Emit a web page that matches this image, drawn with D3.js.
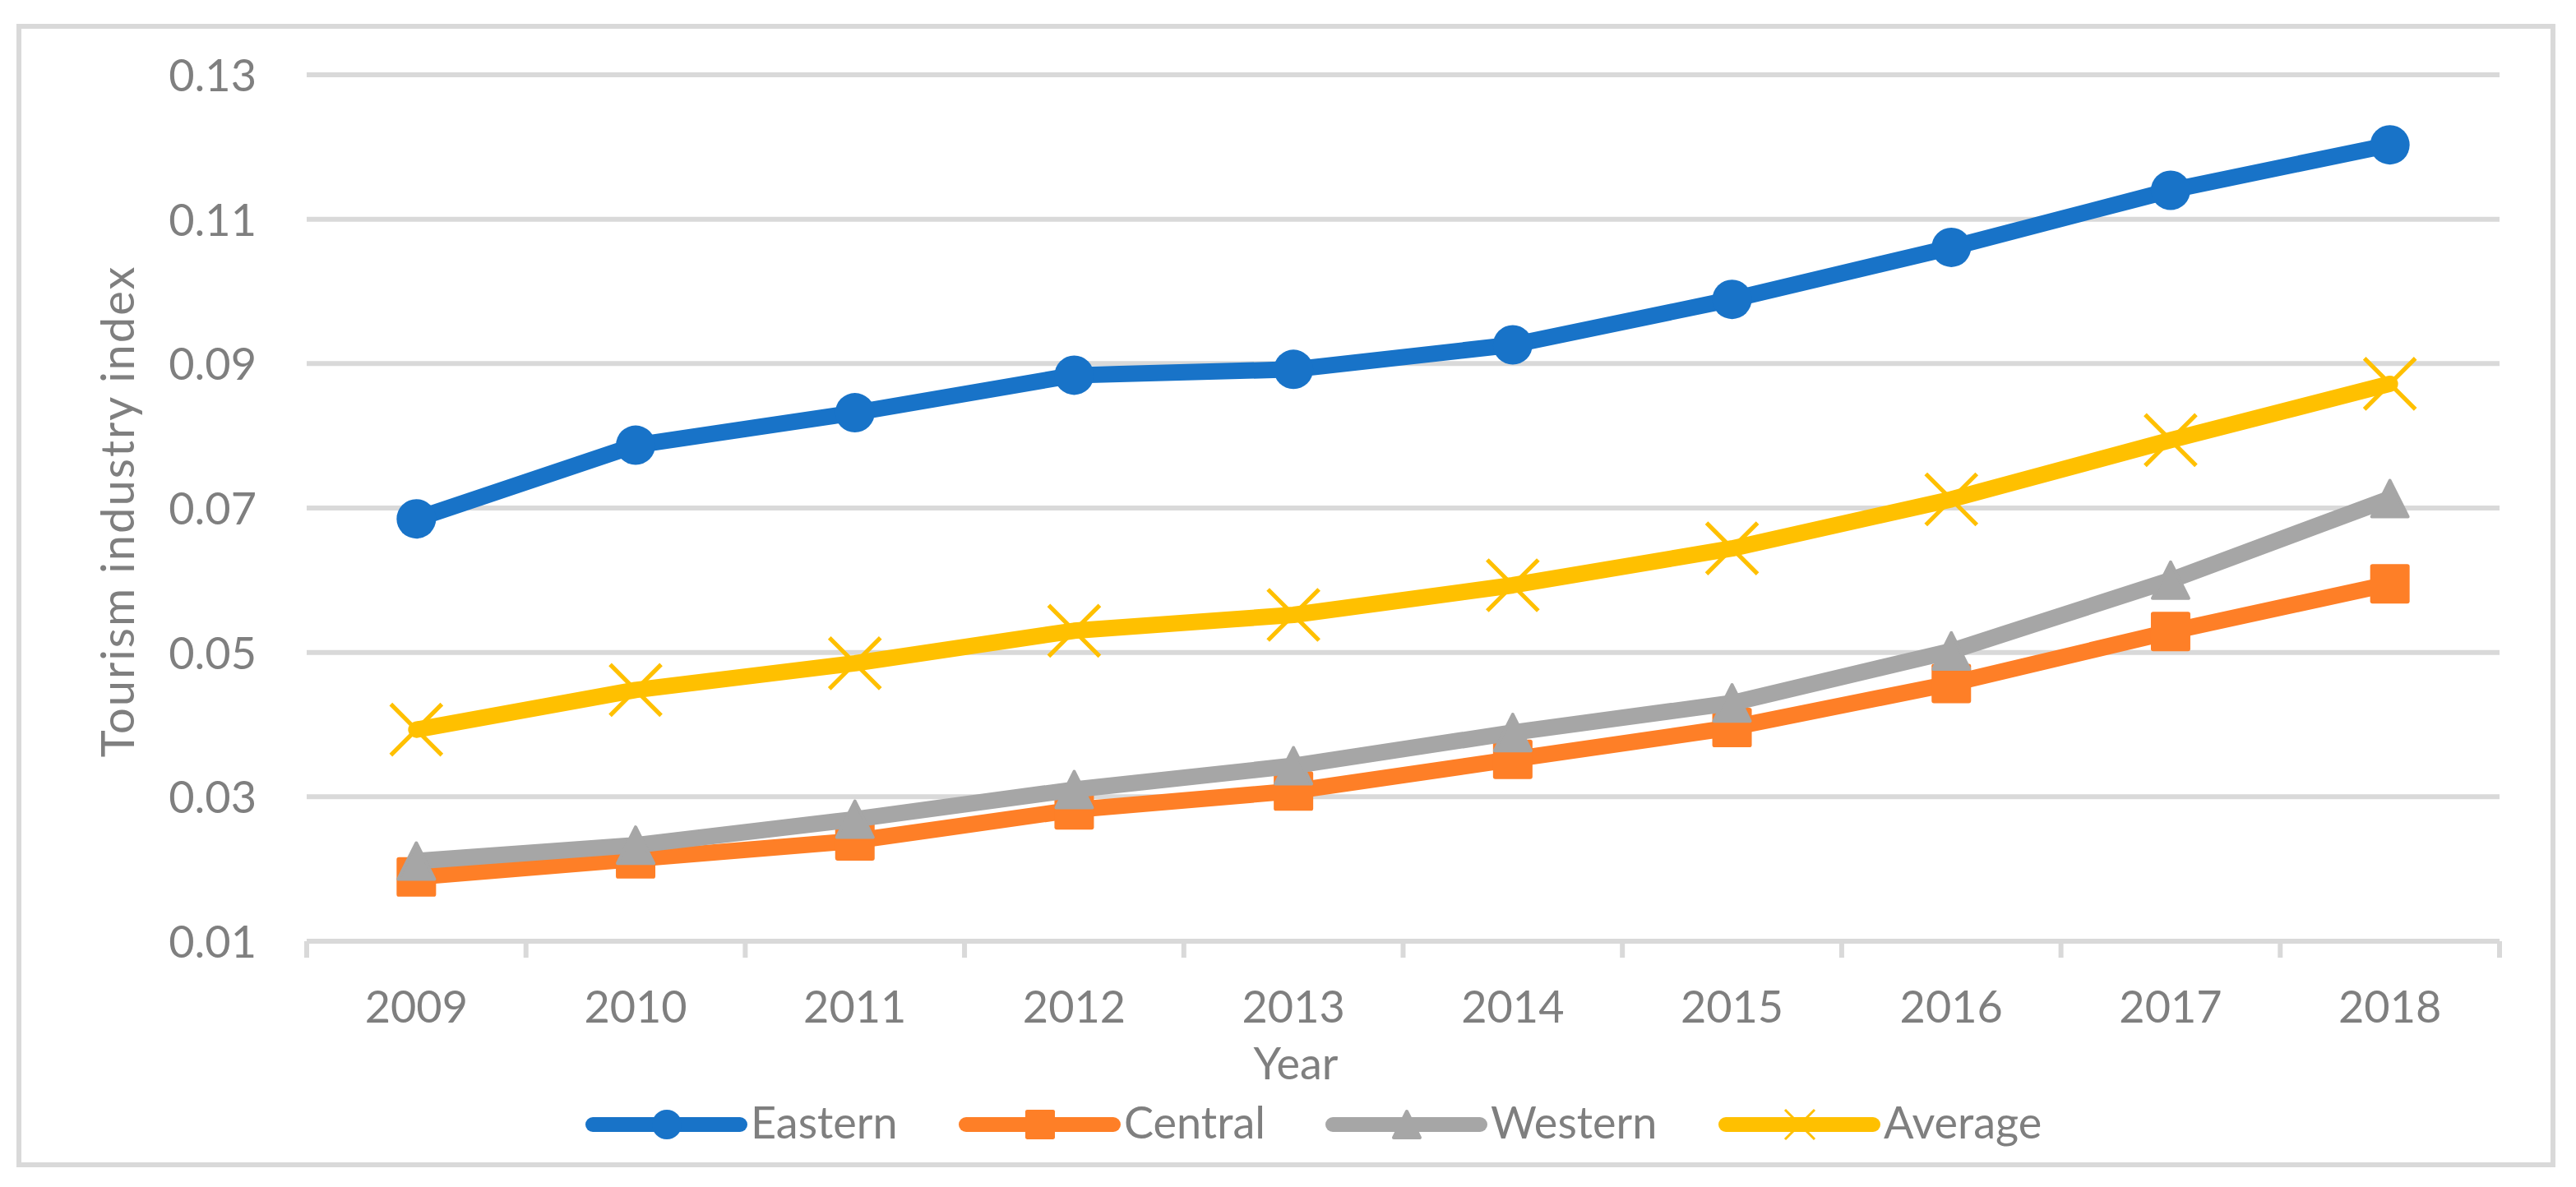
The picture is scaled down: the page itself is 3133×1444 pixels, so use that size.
<!DOCTYPE html>
<html>
<head>
<meta charset="utf-8">
<script src="https://cdn.jsdelivr.net/npm/d3@7"></script>
<style>
body { margin: 0; background: #fff; }
text { font-family: Lato, "Open Sans", sans-serif; font-size: 54px; fill: #7f7f7f; }
</style>
</head>
<body>
<svg width="3133" height="1444"></svg>
<script>
var years = ["2009", "2010", "2011", "2012", "2013", "2014", "2015", "2016", "2017", "2018"];
var eastern = [0.0685, 0.0787, 0.0832, 0.0884, 0.0892, 0.0926, 0.0989, 0.1061, 0.1140, 0.1203];
var central = [0.0189, 0.0214, 0.0239, 0.0282, 0.0308, 0.0352, 0.0396, 0.0457, 0.0529, 0.0595];
var western = [0.0211, 0.0233, 0.0269, 0.0310, 0.0343, 0.0389, 0.0430, 0.0502, 0.0600, 0.0713];
var average = [0.0393, 0.0448, 0.0485, 0.0530, 0.0552, 0.0593, 0.0644, 0.0712, 0.0794, 0.0872];
var yTicks = [0.01, 0.03, 0.05, 0.07, 0.09, 0.11, 0.13];
var seriesNames = ["Eastern", "Central", "Western", "Average"];

var colors = ["#1873c8", "#fe7f27", "#a6a6a6", "#ffc000"];
var shapes = ["circle", "square", "triangle", "x"];
var seriesData = [eastern, central, western, average];

var svg = d3.select("svg");
var plot = {left: 373, right: 3040, top: 91, bottom: 1145};
var grey = "#d9d9d9";

var x = d3.scaleBand().domain(years).range([plot.left, plot.right]);
var y = d3.scaleLinear().domain([0.01, 0.13]).range([plot.bottom, plot.top]);
var cx = function(d) { return x(d) + x.bandwidth() / 2; };

// outer chart border
svg.append("rect")
  .attr("x", 23).attr("y", 32).attr("width", 3082).attr("height", 1385)
  .attr("fill", "none").attr("stroke", grey).attr("stroke-width", 6);

// gridlines
svg.append("g").selectAll("line")
  .data(yTicks.slice(1))
  .enter().append("line")
  .attr("x1", plot.left).attr("x2", plot.right)
  .attr("y1", function(d) { return y(d); })
  .attr("y2", function(d) { return y(d); })
  .attr("stroke", grey).attr("stroke-width", 6);

// y axis labels
var gy = svg.append("g")
  .attr("transform", "translate(312,0)")
  .call(d3.axisLeft(y).tickValues(yTicks).tickSize(0).tickPadding(0).tickFormat(d3.format(".2f")));
gy.select(".domain").remove();
gy.selectAll("text").attr("dy", "0.36em");

// x axis line and ticks between categories
svg.append("line")
  .attr("x1", plot.left).attr("x2", plot.right)
  .attr("y1", plot.bottom).attr("y2", plot.bottom)
  .attr("stroke", grey).attr("stroke-width", 6);

var bounds = years.map(function(d) { return x(d); }).concat([plot.right]);
svg.append("g").selectAll("line")
  .data(bounds)
  .enter().append("line")
  .attr("x1", function(d) { return d; }).attr("x2", function(d) { return d; })
  .attr("y1", plot.bottom).attr("y2", plot.bottom + 20)
  .attr("stroke", grey).attr("stroke-width", 6);

var gx = svg.append("g")
  .attr("transform", "translate(0," + plot.bottom + ")")
  .call(d3.axisBottom(x).tickSize(0).tickPadding(61));
gx.select(".domain").remove();

// axis titles
svg.append("text")
  .attr("x", 1576).attr("y", 1313)
  .attr("text-anchor", "middle")
  .text("Year");

svg.append("text")
  .attr("transform", "translate(163,622) rotate(-90)")
  .attr("text-anchor", "middle")
  .style("letter-spacing", "2px")
  .style("font-size", "56px")
  .text("Tourism industry index");

function marker(g, shape, color, px, py, s) {
  var h = s / 2;
  if (shape == "circle") {
    g.append("circle").attr("cx", px).attr("cy", py).attr("r", h).attr("fill", color);
  } else if (shape == "square") {
    g.append("rect").attr("x", px - h).attr("y", py - h).attr("width", s).attr("height", s)
      .attr("rx", s * 0.06).attr("fill", color);
  } else if (shape == "triangle") {
    g.append("path")
      .attr("d", "M" + px + "," + (py - h + 2) + "L" + (px + h - 2) + "," + (py + h - 2) + "L" + (px - h + 2) + "," + (py + h - 2) + "Z")
      .attr("fill", color).attr("stroke", color).attr("stroke-width", 4).attr("stroke-linejoin", "round");
  } else {
    var k = s * 0.5;
    g.append("path")
      .attr("d", "M" + (px - k) + "," + (py - k) + "L" + (px + k) + "," + (py + k) +
                 "M" + (px - k) + "," + (py + k) + "L" + (px + k) + "," + (py - k))
      .attr("fill", "none").attr("stroke", color).attr("stroke-width", s / 12);
  }
}

// series
var line = d3.line()
  .x(function(d, i) { return cx(years[i]); })
  .y(function(d) { return y(d); });

seriesData.forEach(function(vals, si) {
  var g = svg.append("g");
  g.append("path")
    .attr("d", line(vals))
    .attr("fill", "none")
    .attr("stroke", colors[si])
    .attr("stroke-width", 20)
    .attr("stroke-linejoin", "round")
    .attr("stroke-linecap", "round");
  vals.forEach(function(v, i) {
    marker(g, shapes[si], colors[si], cx(years[i]), y(v), shapes[si] == "x" ? 62 : 48);
  });
});

// legend
var legendX = [721, 1175, 1621, 2099];
var legendY = 1368;
seriesNames.forEach(function(name, i) {
  var g = svg.append("g");
  g.append("line")
    .attr("x1", legendX[i]).attr("x2", legendX[i] + 179)
    .attr("y1", legendY).attr("y2", legendY)
    .attr("stroke", colors[i]).attr("stroke-width", 18).attr("stroke-linecap", "round");
  marker(g, shapes[i], colors[i], legendX[i] + 90, legendY, 36);
  g.append("text")
    .attr("x", legendX[i] + 192).attr("y", legendY + 17)
    .text(name);
});
</script>
</body>
</html>
